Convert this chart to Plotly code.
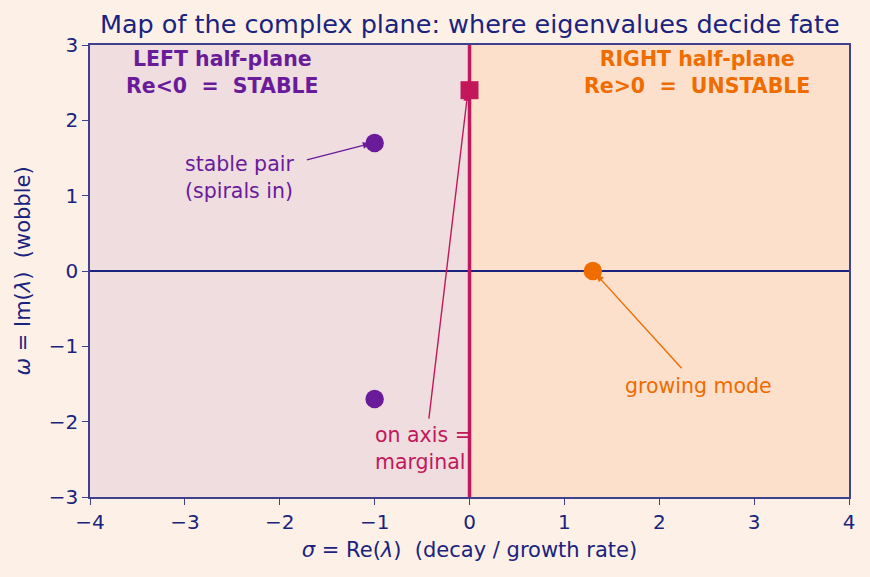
import plotly.graph_objects as go

# data
stable_re = [-1.0, -1.0]
stable_im = [1.7, -1.7]
growing_re = [1.3]
growing_im = [0.0]
marginal_re = [0.0]
marginal_im = [2.4]
x_range = [-4, 4]
y_range = [-3, 3]
x_ticks = [-4, -3, -2, -1, 0, 1, 2, 3, 4]
y_ticks = [-3, -2, -1, 0, 1, 2, 3]

NAVY = "#1a237e"
PURPLE = "#6a1b9a"
ORANGE = "#ef6c00"
CRIMSON = "#c2185b"
FONT = "DejaVu Sans"

fig = go.Figure()

# half-plane shading
fig.add_shape(type="rect", xref="x", yref="y", x0=x_range[0], x1=0, y0=y_range[0], y1=y_range[1],
              fillcolor="#efdde0", line_width=0, layer="below")
fig.add_shape(type="rect", xref="x", yref="y", x0=0, x1=x_range[1], y0=y_range[0], y1=y_range[1],
              fillcolor="#fde0cb", line_width=0, layer="below")

# axes lines
fig.add_trace(go.Scatter(x=x_range, y=[0, 0], mode="lines", line=dict(color=NAVY, width=1.8),
                         hoverinfo="skip", showlegend=False))
fig.add_trace(go.Scatter(x=[0, 0], y=y_range, mode="lines", line=dict(color=CRIMSON, width=3.5),
                         hoverinfo="skip", showlegend=False))

fig.add_trace(go.Scatter(x=stable_re, y=stable_im, mode="markers",
                         marker=dict(color=PURPLE, size=18.5, line_width=0), showlegend=False))
fig.add_trace(go.Scatter(x=growing_re, y=growing_im, mode="markers",
                         marker=dict(color=ORANGE, size=18.5, line_width=0), showlegend=False))
fig.add_trace(go.Scatter(x=marginal_re, y=marginal_im, mode="markers",
                         marker=dict(color=CRIMSON, size=18, symbol="square", line_width=0), showlegend=False))

ann = []
# arrows
def arrow(x, y, ax, ay, color):
    ann.append(dict(x=x, y=y, ax=ax, ay=ay, xref="x", yref="y", axref="x", ayref="y",
                    text="", showarrow=True, arrowhead=2, arrowsize=1.0, arrowwidth=1.4,
                    arrowcolor=color, standoff=0))

arrow(-1.05, 1.69, -1.73, 1.47, PURPLE)
arrow(-0.02, 2.35, -0.43, -1.98, CRIMSON)
arrow(1.34, -0.05, 2.25, -1.31, ORANGE)

def text(x, y, t, color, xanchor="left"):
    ann.append(dict(x=x, y=y, xref="x", yref="y", text=t, showarrow=False, xanchor=xanchor,
                    yanchor="middle", align=xanchor if xanchor != "center" else "center",
                    font=dict(family=FONT, size=20.5, color=color)))

text(-3.02, 1.24, "stable pair<br>(spirals in)", PURPLE)
text(-1.02, -2.36, "on axis =<br>marginal", CRIMSON)
text(2.41, -1.53, "growing mode", ORANGE, xanchor="center")
text(-2.6, 2.63, "<b>LEFT half-plane<br>Re&lt;0  =  STABLE</b>", PURPLE, xanchor="center")
text(2.4, 2.63, "<b>RIGHT half-plane<br>Re&gt;0  =  UNSTABLE</b>", ORANGE, xanchor="center")

axis_common = dict(showgrid=False, zeroline=False, showline=True, mirror=True,
                   linecolor="#3f418f", linewidth=1.5, ticks="outside", ticklen=6,
                   tickwidth=1.3, tickcolor="#3f418f",
                   tickfont=dict(family=FONT, size=20, color=NAVY))

fig.update_layout(
    width=870, height=577,
    margin=dict(l=90, r=21, t=45, b=80),
    paper_bgcolor="#fdf1e7", plot_bgcolor="#fdf1e7",
    title=dict(text="Map of the complex plane: where eigenvalues decide fate",
               x=0.54, xanchor="center", y=0.958, yanchor="middle",
               font=dict(family=FONT, size=25.5, color=NAVY)),
    xaxis=dict(range=x_range, tickvals=x_ticks,
               ticktext=[str(v).replace("-", "\u2212") for v in x_ticks],
               title=dict(text="<i>σ</i> = Re(<i>λ</i>)  (decay / growth rate)", standoff=10,
                          font=dict(family=FONT, size=21, color=NAVY)),
               **axis_common),
    yaxis=dict(range=y_range, tickvals=y_ticks,
               ticktext=[str(v).replace("-", "\u2212") for v in y_ticks],
               title=dict(text="<i>ω</i> = Im(<i>λ</i>)  (wobble)", standoff=12,
                          font=dict(family=FONT, size=21, color=NAVY)),
               **axis_common),
    annotations=ann,
)

fig.write_html("out.html")
